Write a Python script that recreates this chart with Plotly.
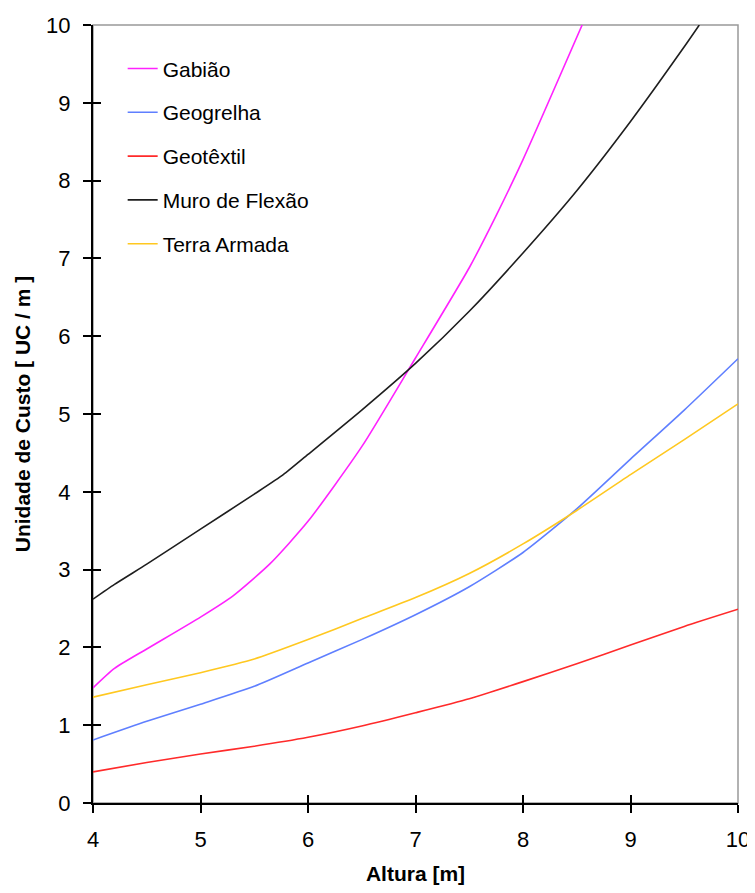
import plotly.graph_objects as go

# ---- data ----
names = ["Gabião", "Geogrelha", "Geotêxtil", "Muro de Flexão", "Terra Armada"]
colors = ["#FF22FF", "#5F7FFF", "#FF2A2A", "#1E1E1E", "#FFC820"]

gabiao_x = [4, 4.2, 4.5, 5, 5.3, 5.65, 6, 6.5, 7, 7.5, 7.75, 8, 8.55]
gabiao_y = [1.48, 1.73, 1.98, 2.39, 2.66, 3.08, 3.62, 4.58, 5.72, 6.88, 7.55, 8.27, 10.0]

geogrelha_x = [4, 4.5, 5, 5.5, 6, 6.5, 7, 7.5, 8, 8.5, 9, 9.5, 10]
geogrelha_y = [0.81, 1.05, 1.27, 1.5, 1.8, 2.1, 2.42, 2.78, 3.22, 3.78, 4.42, 5.05, 5.71]

geotextil_x = [4, 4.5, 5, 5.5, 6, 6.5, 7, 7.5, 8, 8.5, 9, 9.5, 10]
geotextil_y = [0.40, 0.52, 0.63, 0.73, 0.845, 0.99, 1.16, 1.34, 1.56, 1.79, 2.03, 2.27, 2.49]

muro_x = [4, 4.2, 4.5, 5, 5.5, 5.77, 6, 6.5, 7, 7.5, 8, 8.5, 9, 9.5, 9.64]
muro_y = [2.62, 2.81, 3.07, 3.52, 3.97, 4.22, 4.48, 5.05, 5.65, 6.32, 7.07, 7.87, 8.76, 9.72, 10.0]

terra_x = [4, 4.5, 5, 5.5, 6, 6.5, 7, 7.5, 8, 8.5, 9, 9.5, 10]
terra_y = [1.36, 1.52, 1.675, 1.85, 2.1, 2.37, 2.64, 2.95, 3.33, 3.76, 4.22, 4.67, 5.13]

x_ticks = [4, 5, 6, 7, 8, 9, 10]
y_ticks = [0, 1, 2, 3, 4, 5, 6, 7, 8, 9, 10]

series = [(gabiao_x, gabiao_y), (geogrelha_x, geogrelha_y), (geotextil_x, geotextil_y),
          (muro_x, muro_y), (terra_x, terra_y)]

FONT = "Liberation Sans, Arial, sans-serif"

fig = go.Figure()
for i, ((xs, ys), nm, col) in enumerate(zip(series, names, colors)):
    fig.add_trace(go.Scatter(x=xs, y=ys, mode="lines", name=nm,
                             line=dict(color=col, width=1.6, shape="spline", smoothing=0.6),
                             legendgroup=f"g{i}"))

# invisible trace to host the overlay axes (inner half of crossing ticks)
fig.add_trace(go.Scatter(x=[x_ticks[0]], y=[y_ticks[0]], mode="markers",
                         marker=dict(opacity=0), showlegend=False,
                         hoverinfo="skip", xaxis="x2", yaxis="y2"))

axis_common = dict(showgrid=False, zeroline=False, ticks="outside", ticklen=8,
                   tickwidth=1.5, tickcolor="black", showline=True,
                   linecolor="black", linewidth=2, automargin=False,
                   tickfont=dict(family=FONT, size=22, color="black"))

# page body has an 8px margin, so the figure is sized to fit the 755x893 window
fig.update_layout(
    width=747, height=877,
    margin=dict(l=85, r=17, t=17, b=82),
    paper_bgcolor="white", plot_bgcolor="white",
    font=dict(family=FONT, color="black"),
    xaxis=dict(range=[4, 10], tickvals=x_ticks, ticklabelstandoff=8,
               title=dict(text="<b>Altura [m]</b>", font=dict(size=21, family=FONT),
                          standoff=20),
               **axis_common),
    yaxis=dict(range=[0, 10], tickvals=y_ticks, ticklabelstandoff=8,
               title=dict(text="<b>Unidade de Custo [ UC / m ]</b>",
                          font=dict(size=21, family=FONT), standoff=10),
               **axis_common),
    xaxis2=dict(range=[4, 10], tickvals=x_ticks, overlaying="x", anchor="y2",
                showticklabels=False, ticks="inside", ticklen=8, tickwidth=1.5,
                tickcolor="black", showgrid=False, zeroline=False, showline=False,
                automargin=False),
    yaxis2=dict(range=[0, 10], tickvals=y_ticks, overlaying="y", anchor="x2",
                showticklabels=False, ticks="inside", ticklen=8, tickwidth=1.5,
                tickcolor="black", showgrid=False, zeroline=False, showline=False,
                automargin=False),
    legend=dict(x=0.046, y=0.97, xanchor="left", yanchor="top",
                bgcolor="rgba(0,0,0,0)", tracegroupgap=13.5,
                font=dict(family=FONT, size=21, color="black")),
    shapes=[dict(type="rect", xref="paper", yref="paper", x0=0, x1=1, y0=0, y1=1,
                 line=dict(color="#999999", width=1.5), layer="below")],
    showlegend=True,
)

fig.write_html("out.html")
